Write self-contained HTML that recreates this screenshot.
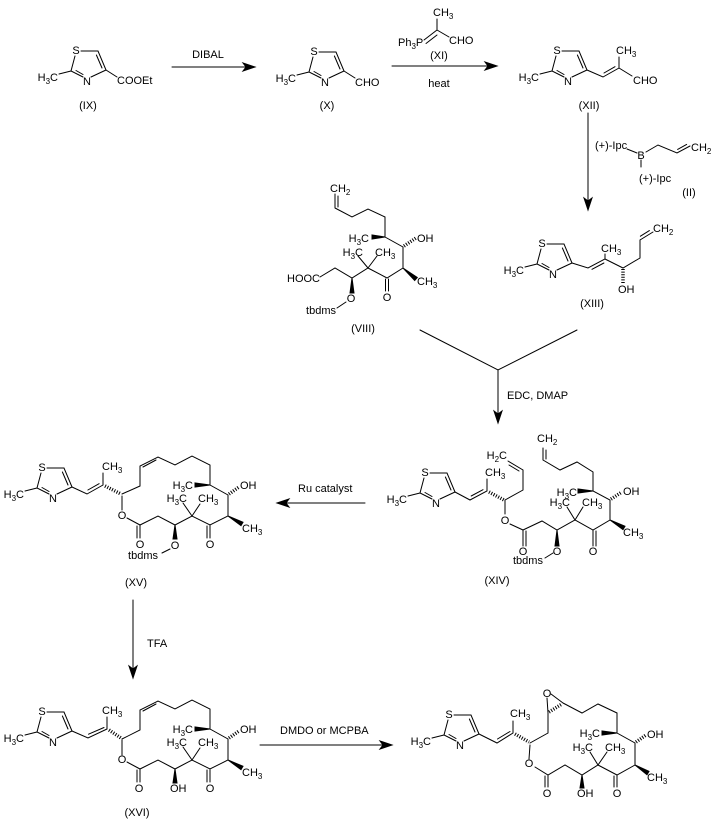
<!DOCTYPE html>
<html><head><meta charset="utf-8">
<style>
html,body{margin:0;padding:0;background:#fff;}
svg{display:block;}
text{font-family:"Liberation Sans",Arial,sans-serif;font-size:11px;fill:#000;stroke:none;}
.s{font-size:8px;}
.h{stroke-width:3.5;stroke-dasharray:1 1.6;stroke-linecap:butt;}
</style></head><body>
<svg width="713" height="819" viewBox="0 0 713 819" xmlns="http://www.w3.org/2000/svg">
<rect x="0" y="0" width="713" height="819" fill="#fff"/>
<g stroke="#000" stroke-width="1" fill="none" stroke-linecap="round">

<!-- ========== IX ========== -->
<g transform="translate(106,70)">
<path d="M0,0L-8,-19L-25,-19M-31,-14L-35,1L-23,7M-15,7L0,0M-35,1L-47,4M-4,-2L-9.6,-15M-30,0.5L-23,4.5"/>
<text x="-30" y="-16" text-anchor="middle">S</text>
<text x="-19" y="15" text-anchor="middle">N</text>
<text x="-48" y="11" text-anchor="end">H<tspan class="s" dy="3">3</tspan><tspan dy="-3">C</tspan></text>
</g>
<path d="M106,70L117,77"/>
<text x="117" y="84">COOEt</text>
<text x="88" y="109" text-anchor="middle">(IX)</text>

<!-- DIBAL arrow -->
<path d="M172,67L248,67"/>
<polygon points="255,67 243,63 246,67 243,71" fill="#000"/>
<text x="208" y="58" text-anchor="middle">DIBAL</text>

<!-- ========== X ========== -->
<g transform="translate(344,71)">
<path d="M0,0L-8,-19L-25,-19M-31,-14L-35,1L-23,7M-15,7L0,0M-35,1L-47,4M-4,-2L-9.6,-15M-30,0.5L-23,4.5"/>
<text x="-30" y="-16" text-anchor="middle">S</text>
<text x="-19" y="15" text-anchor="middle">N</text>
<text x="-48" y="11" text-anchor="end">H<tspan class="s" dy="3">3</tspan><tspan dy="-3">C</tspan></text>
</g>
<path d="M344,71L355,78"/>
<text x="355" y="86">CHO</text>
<text x="327" y="109" text-anchor="middle">(X)</text>

<!-- XI arrow -->
<path d="M392,66L490,66"/>
<polygon points="497,66 485,62 488,66 485,70" fill="#000"/>
<text x="433" y="16">CH<tspan class="s" dy="3">3</tspan></text>
<path d="M437,19L437,30M424,40L437,30M426,43.5L437,35M437,30L449,37"/>
<text x="398" y="46">Ph<tspan class="s" dy="3">3</tspan><tspan dy="-3">P</tspan></text>
<text x="449" y="44">CHO</text>
<text x="439" y="59" text-anchor="middle">(XI)</text>
<text x="439" y="87" text-anchor="middle">heat</text>

<!-- ========== XII ========== -->
<g transform="translate(587,70)">
<path d="M0,0L-8,-19L-25,-19M-31,-14L-35,1L-23,7M-15,7L0,0M-35,1L-47,4M-4,-2L-9.6,-15M-30,0.5L-23,4.5"/>
<text x="-30" y="-16" text-anchor="middle">S</text>
<text x="-19" y="15" text-anchor="middle">N</text>
<text x="-48" y="11" text-anchor="end">H<tspan class="s" dy="3">3</tspan><tspan dy="-3">C</tspan></text>
</g>
<path d="M587,70L603,77L619,68L619,57M604,73L615,66.7M619,68L632,76"/>
<text x="616" y="54">CH<tspan class="s" dy="3">3</tspan></text>
<text x="633" y="84">CHO</text>
<text x="589" y="109" text-anchor="middle">(XII)</text>

<!-- down arrow XII -> XIII -->
<path d="M588,113L588,203"/>
<polygon points="588,210 584,198 588,201 592,198" fill="#000"/>

<!-- reagent II -->
<text x="595" y="149">(+)-Ipc</text>
<text x="641" y="159" text-anchor="middle">B</text>
<path d="M627,149L637,153M646,152L658,145L677,153L690,146M677.6,149.4L686.6,144.4M641,160L641,167"/>
<text x="691" y="151">CH<tspan class="s" dy="3">2</tspan></text>
<text x="639" y="182">(+)-Ipc</text>
<text x="689" y="196" text-anchor="middle">(II)</text>

<!-- ========== XIII ========== -->
<g transform="translate(572,263)">
<path d="M0,0L-8,-19L-25,-19M-31,-14L-35,1L-23,7M-15,7L0,0M-35,1L-47,4M-4,-2L-9.6,-15M-30,0.5L-23,4.5"/>
<text x="-30" y="-16" text-anchor="middle">S</text>
<text x="-19" y="15" text-anchor="middle">N</text>
<text x="-48" y="11" text-anchor="end">H<tspan class="s" dy="3">3</tspan><tspan dy="-3">C</tspan></text>
</g>
<path d="M572,263L588,268L605,259L605,254M592,269.3L603.9,263M605,259L623,268L640,258L640,240L653,232M640.4,236.2L649.4,230.6"/>
<path class="h" d="M623,269L623,283"/>
<text x="601" y="252">CH<tspan class="s" dy="3">3</tspan></text>
<text x="653" y="232">CH<tspan class="s" dy="3">2</tspan></text>
<text x="618" y="293">OH</text>
<text x="592" y="307" text-anchor="middle">(XIII)</text>

<!-- ========== VIII ========== -->
<text x="330" y="192">CH<tspan class="s" dy="3">2</tspan></text>
<path d="M335,194L335,208M338,196L338,207M335,208L352,217L368,209L385,217L385,237L403,247L403,268L387,278L368,268L352,278L335,268L320,277M385.5,279L385.5,291M388.5,279L388.5,291M368,268L358,256M368,268L377,256M346,302L337,308"/>
<polygon points="385,237 372,235 372,239" fill="#000"/>
<polygon points="403,268 414.7,280.5 417.3,277.5" fill="#000"/>
<polygon points="352,278 350,293 354,293" fill="#000"/>
<path class="h" d="M404,246L416,238"/>
<text x="369" y="242" text-anchor="end">H<tspan class="s" dy="3">3</tspan><tspan dy="-3">C</tspan></text>
<text x="417" y="242">OH</text>
<text x="417" y="285">CH<tspan class="s" dy="3">3</tspan></text>
<text x="387" y="301" text-anchor="middle">O</text>
<text x="363" y="256" text-anchor="end">H<tspan class="s" dy="3">3</tspan><tspan dy="-3">C</tspan></text>
<text x="375" y="256">CH<tspan class="s" dy="3">3</tspan></text>
<text x="351" y="302" text-anchor="middle">O</text>
<text x="336" y="314" text-anchor="end">tbdms</text>
<text x="320" y="282" text-anchor="end">HOOC</text>
<text x="363" y="332" text-anchor="middle">(VIII)</text>

<!-- merge arrow -->
<path d="M420,330L498,370L577,330M498,370L498,416"/>
<polygon points="498,423 494,411 498,414 502,411" fill="#000"/>
<text x="507" y="399">EDC, DMAP</text>

<!-- ========== XIV ========== -->
<g transform="translate(455,492)">
<path d="M0,0L-8,-19L-25,-19M-31,-14L-35,1L-23,7M-15,7L0,0M-35,1L-47,4M-4,-2L-9.6,-15M-30,0.5L-23,4.5"/>
<text x="-30" y="-16" text-anchor="middle">S</text>
<text x="-19" y="15" text-anchor="middle">N</text>
<text x="-48" y="11" text-anchor="end">H<tspan class="s" dy="3">3</tspan><tspan dy="-3">C</tspan></text>
</g>
<path d="M455,492L470,500L487,491L487,479M471.2,496L483,489.7"/>
<path class="h" d="M489,492L504,500"/>
<path d="M505,500L523,490L523,470L508,461M519,471L509,465M505,500L505,514M510,524L523,530L523,546M526,531L526,546M523,530L542,521L557,530L575,520L593,530L610,520L610,500L593,491L593,472L577,462L560,470L543,460L543,448M546,459L546,450M575,520L567,507M575,520L583,507M593,530L593,546M596,531L596,546M553,553L545,558"/>
<polygon points="557,530 555,546 559,546" fill="#000"/>
<polygon points="610,520 623,529.7 625,526.3" fill="#000"/>
<polygon points="593,491 578,489 578,493" fill="#000"/>
<path class="h" d="M611,499L622,492"/>
<text x="485" y="476">CH<tspan class="s" dy="3">3</tspan></text>
<text x="507" y="459" text-anchor="end">H<tspan class="s" dy="3">2</tspan><tspan dy="-3">C</tspan></text>
<text x="505" y="524" text-anchor="middle">O</text>
<text x="523" y="555" text-anchor="middle">O</text>
<text x="557" y="555" text-anchor="middle">O</text>
<text x="513" y="564">tbdms</text>
<text x="570" y="506" text-anchor="end">H<tspan class="s" dy="3">3</tspan><tspan dy="-3">C</tspan></text>
<text x="582" y="506">CH<tspan class="s" dy="3">3</tspan></text>
<text x="593" y="555" text-anchor="middle">O</text>
<text x="623" y="536">CH<tspan class="s" dy="3">3</tspan></text>
<text x="623" y="495">OH</text>
<text x="577" y="496" text-anchor="end">H<tspan class="s" dy="3">3</tspan><tspan dy="-3">C</tspan></text>
<text x="537" y="442">CH<tspan class="s" dy="3">2</tspan></text>
<text x="497" y="584" text-anchor="middle">(XIV)</text>

<!-- Ru catalyst arrow -->
<path d="M284,503L365,503"/>
<polygon points="277,503 289,499 286,503 289,507" fill="#000"/>
<text x="298" y="492">Ru catalyst</text>

<!-- ========== XV ========== -->
<g transform="translate(72,487)">
<path d="M0,0L-8,-19L-25,-19M-31,-14L-35,1L-23,7M-15,7L0,0M-35,1L-47,4M-4,-2L-9.6,-15M-30,0.5L-23,4.5"/>
<text x="-30" y="-16" text-anchor="middle">S</text>
<text x="-19" y="15" text-anchor="middle">N</text>
<text x="-48" y="11" text-anchor="end">H<tspan class="s" dy="3">3</tspan><tspan dy="-3">C</tspan></text>
</g>
<path d="M72,487L87,494L103,485L103,473M87.9,490L99.1,483.7"/>
<path class="h" d="M105,486L121,494"/>
<path d="M122,494L140,486L140,466L158,457L175,465L192,456L210,465L210,485L228,495L228,516L210,525L192,516L175,525L158,516L140,525L127,518M143,467L156,460M210,525L210,538M207,526L207,538M192,516L183,503M192,516L200,504M140,525L140,538M137,526L137,538M122,510L122,496M170,549L162,553"/>
<polygon points="210,485 195,483 195,487" fill="#000"/>
<polygon points="228,516 241,525.7 243,522.3" fill="#000"/>
<polygon points="175,525 173,539 177,539" fill="#000"/>
<path class="h" d="M229,494L239,487"/>
<text x="102" y="470">CH<tspan class="s" dy="3">3</tspan></text>
<text x="193" y="489" text-anchor="end">H<tspan class="s" dy="3">3</tspan><tspan dy="-3">C</tspan></text>
<text x="240" y="489">OH</text>
<text x="242" y="532">CH<tspan class="s" dy="3">3</tspan></text>
<text x="210" y="548" text-anchor="middle">O</text>
<text x="187" y="502" text-anchor="end">H<tspan class="s" dy="3">3</tspan><tspan dy="-3">C</tspan></text>
<text x="198" y="502">CH<tspan class="s" dy="3">3</tspan></text>
<text x="175" y="549" text-anchor="middle">O</text>
<text x="158" y="559" text-anchor="end">tbdms</text>
<text x="140" y="548" text-anchor="middle">O</text>
<text x="122" y="519" text-anchor="middle">O</text>
<text x="136" y="586" text-anchor="middle">(XV)</text>

<!-- TFA arrow -->
<path d="M133,600L133,671"/>
<polygon points="133,678 129,666 133,669 137,666" fill="#000"/>
<text x="147" y="647">TFA</text>

<!-- ========== XVI ========== -->
<g transform="translate(72,731)">
<path d="M0,0L-8,-19L-25,-19M-31,-14L-35,1L-23,7M-15,7L0,0M-35,1L-47,4M-4,-2L-9.6,-15M-30,0.5L-23,4.5"/>
<text x="-30" y="-16" text-anchor="middle">S</text>
<text x="-19" y="15" text-anchor="middle">N</text>
<text x="-48" y="11" text-anchor="end">H<tspan class="s" dy="3">3</tspan><tspan dy="-3">C</tspan></text>
</g>
<path d="M72,731L88,738L107,729L107,717M88.5,734.2L104,727.5"/>
<path class="h" d="M109,730L121,738"/>
<path d="M122,739L140,730L140,710L158,701L175,709L192,700L210,709L210,729L228,739L228,760L210,769L192,760L175,769L158,760L140,769L127,762M143,711L156,704M210,769L210,782M207,770L207,782M192,760L183,747M192,760L200,748M140,769L140,782M137,770L137,782M122,755L122,740"/>
<polygon points="210,729 195,727 195,731" fill="#000"/>
<polygon points="228,760 241,769.7 243,766.3" fill="#000"/>
<polygon points="175,769 173,783 177,783" fill="#000"/>
<path class="h" d="M229,738L239,731"/>
<text x="102" y="714">CH<tspan class="s" dy="3">3</tspan></text>
<text x="193" y="733" text-anchor="end">H<tspan class="s" dy="3">3</tspan><tspan dy="-3">C</tspan></text>
<text x="240" y="733">OH</text>
<text x="242" y="776">CH<tspan class="s" dy="3">3</tspan></text>
<text x="210" y="792" text-anchor="middle">O</text>
<text x="187" y="746" text-anchor="end">H<tspan class="s" dy="3">3</tspan><tspan dy="-3">C</tspan></text>
<text x="198" y="746">CH<tspan class="s" dy="3">3</tspan></text>
<text x="170" y="792">OH</text>
<text x="139" y="792" text-anchor="middle">O</text>
<text x="122" y="763" text-anchor="middle">O</text>
<text x="137" y="816" text-anchor="middle">(XVI)</text>

<!-- DMDO arrow -->
<path d="M260,745L385,745"/>
<polygon points="392,745 380,741 383,745 380,749" fill="#000"/>
<text x="280" y="734">DMDO or MCPBA</text>

<!-- ========== Final epoxide ========== -->
<g transform="translate(479,734)">
<path d="M0,0L-8,-19L-25,-19M-31,-14L-35,1L-23,7M-15,7L0,0M-35,1L-47,4M-4,-2L-9.6,-15M-30,0.5L-23,4.5"/>
<text x="-30" y="-16" text-anchor="middle">S</text>
<text x="-19" y="15" text-anchor="middle">N</text>
<text x="-48" y="11" text-anchor="end">H<tspan class="s" dy="3">3</tspan><tspan dy="-3">C</tspan></text>
</g>
<path d="M479,734L497,743L513,733L513,721M497.5,739L510,731.5"/>
<path class="h" d="M515,734L529,742"/>
<path d="M530,743L548,733L548,713L547,698M551,694L563,703M563,703L582,713L598,704L617,713L617,733L635,743L635,765L617,775L598,765L582,775L565,765L548,775L535,767M617,775L617,787M614,776L614,787M598,765L590,752M598,765L607,752M548,775L548,787M545,776L545,787M529,759L530,745"/>
<path class="h" d="M549,712L562,704"/>
<polygon points="617,733 602,731 602,735" fill="#000"/>
<polygon points="635,765 647,774.7 649,771.3" fill="#000"/>
<polygon points="582,775 580,788 584,788" fill="#000"/>
<path class="h" d="M636,742L646,735"/>
<text x="547" y="697" text-anchor="middle">O</text>
<text x="510" y="717">CH<tspan class="s" dy="3">3</tspan></text>
<text x="600" y="737" text-anchor="end">H<tspan class="s" dy="3">3</tspan><tspan dy="-3">C</tspan></text>
<text x="647" y="738">OH</text>
<text x="647" y="781">CH<tspan class="s" dy="3">3</tspan></text>
<text x="617" y="797" text-anchor="middle">O</text>
<text x="593" y="751" text-anchor="end">H<tspan class="s" dy="3">3</tspan><tspan dy="-3">C</tspan></text>
<text x="605" y="751">CH<tspan class="s" dy="3">3</tspan></text>
<text x="577" y="797">OH</text>
<text x="547" y="797" text-anchor="middle">O</text>
<text x="529" y="767" text-anchor="middle">O</text>

</g>
</svg>
</body></html>
